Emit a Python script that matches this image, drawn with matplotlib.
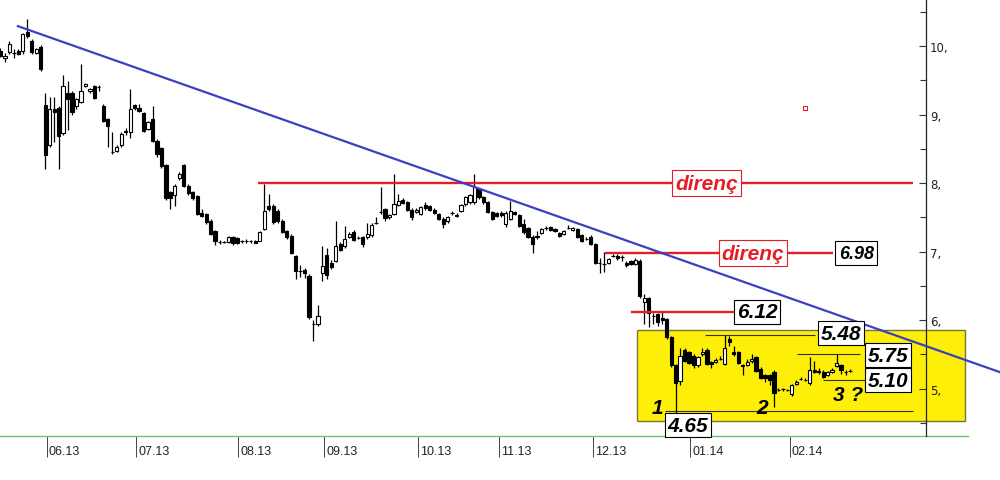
import numpy as np
import matplotlib.pyplot as plt
import matplotlib.transforms as mtransforms
from matplotlib.patches import Rectangle

# daily candles, left to right
opens = [9.93, 9.82, 9.91, 9.90, 9.93, 9.93, 10.21, 10.08, 9.90, 9.99,
         9.14, 8.55, 9.08, 9.09, 8.73, 9.31, 9.31, 9.12, 9.19, 9.42,
         9.35, 9.41, 9.40, 9.13, 8.93, 8.46, 8.47, 8.55, 8.76, 8.75,
         9.14, 9.10, 9.02, 8.79, 8.93, 8.62, 8.51, 8.26, 7.87, 7.82,
         8.07, 8.26, 7.96, 7.87, 7.81, 7.56, 7.55, 7.45, 7.30, 7.14,
         7.14, 7.14, 7.21, 7.20, 7.15, 7.15, 7.15, 7.15, 7.16, 7.33,
         7.67, 7.67, 7.59, 7.45, 7.30, 7.23, 6.93, 6.72, 6.73, 6.65,
         5.94, 5.94, 6.69, 6.95, 6.83, 6.87, 7.11, 7.08, 7.22, 7.29,
         7.20, 7.21, 7.21, 7.24, 7.42, 7.58, 7.62, 7.50, 7.55, 7.68,
         7.76, 7.72, 7.61, 7.58, 7.55, 7.68, 7.66, 7.61, 7.55, 7.48,
         7.44, 7.57, 7.52, 7.60, 7.69, 7.72, 7.72, 7.91, 7.79, 7.72,
         7.58, 7.56, 7.57, 7.40, 7.48, 7.58, 7.53, 7.40, 7.34, 7.22,
         7.23, 7.27, 7.35, 7.36, 7.33, 7.27, 7.26, 7.35, 7.32, 7.33,
         7.24, 7.19, 7.22, 7.11, 6.83, 6.82, 6.84, 6.94, 6.94, 6.92,
         6.84, 6.86, 6.82, 6.87, 6.26, 6.32, 6.06, 6.09, 6.03, 6.01,
         5.75, 5.34, 5.11, 5.56, 5.53, 5.48, 5.34, 5.50, 5.56, 5.39,
         5.39, 5.44, 5.36, 5.72, 5.54, 5.53, 5.34, 5.35, 5.40, 5.46,
         5.29, 5.20, 5.20, 5.25, 4.98, 4.99, 4.98, 4.92, 5.07, 5.14,
         5.13, 5.09, 5.28, 5.26, 5.24, 5.20, 5.25, 5.33, 5.34, 5.25,
         5.26]
highs = [9.97, 9.90, 10.08, 9.96, 9.95, 10.19, 10.39, 10.10, 9.97, 10.01,
         9.31, 9.25, 9.25, 9.12, 9.58, 9.49, 9.35, 9.24, 9.74, 9.46,
         9.39, 9.43, 9.43, 9.15, 8.95, 8.74, 8.55, 8.74, 8.80, 9.37,
         9.16, 9.16, 9.04, 8.91, 9.12, 8.64, 8.53, 8.28, 7.89, 7.98,
         8.16, 8.28, 7.98, 7.89, 7.83, 7.62, 7.57, 7.47, 7.32, 7.17,
         7.16, 7.23, 7.23, 7.22, 7.17, 7.18, 7.17, 7.17, 7.30, 7.99,
         7.84, 7.70, 7.62, 7.47, 7.32, 7.25, 6.95, 6.80, 6.76, 6.67,
         6.00, 6.22, 7.08, 7.05, 6.88, 7.45, 7.14, 7.38, 7.28, 7.31,
         7.23, 7.23, 7.42, 7.42, 7.50, 7.94, 7.64, 7.55, 8.13, 7.84,
         7.78, 7.74, 7.63, 7.63, 7.67, 7.73, 7.68, 7.63, 7.57, 7.50,
         7.52, 7.60, 7.56, 7.70, 7.81, 7.84, 8.13, 7.93, 7.81, 7.74,
         7.60, 7.58, 7.59, 7.59, 7.74, 7.60, 7.55, 7.48, 7.36, 7.24,
         7.30, 7.35, 7.38, 7.38, 7.35, 7.29, 7.32, 7.39, 7.36, 7.35,
         7.26, 7.22, 7.24, 7.13, 6.90, 6.99, 6.91, 6.97, 6.96, 6.95,
         6.86, 6.88, 6.90, 6.89, 6.38, 6.34, 6.10, 6.11, 6.14, 6.03,
         5.77, 5.36, 5.59, 5.60, 5.55, 5.50, 5.48, 5.59, 5.60, 5.41,
         5.45, 5.47, 5.78, 5.77, 5.62, 5.55, 5.36, 5.44, 5.51, 5.48,
         5.31, 5.22, 5.22, 5.27, 5.01, 5.01, 5.00, 5.07, 5.13, 5.17,
         5.16, 5.46, 5.40, 5.30, 5.27, 5.26, 5.30, 5.50, 5.36, 5.28,
         5.29]
lows = [9.84, 9.77, 9.89, 9.82, 9.87, 9.88, 10.12, 9.89, 9.88, 9.64,
        8.20, 8.52, 8.60, 8.21, 8.70, 8.77, 9.00, 9.08, 9.17, 9.40,
        9.32, 9.22, 9.35, 8.89, 8.53, 8.42, 8.45, 8.53, 8.70, 8.66,
        9.06, 9.03, 8.74, 8.77, 8.60, 8.38, 8.22, 7.76, 7.62, 7.66,
        8.05, 7.94, 7.83, 7.76, 7.53, 7.50, 7.41, 7.24, 7.10, 7.11,
        7.12, 7.12, 7.10, 7.11, 7.13, 7.13, 7.13, 7.12, 7.15, 7.31,
        7.60, 7.41, 7.42, 7.27, 7.19, 6.96, 6.60, 6.63, 6.62, 6.02,
        5.70, 5.92, 6.57, 6.60, 6.74, 6.85, 7.01, 7.06, 7.20, 7.15,
        7.18, 7.07, 7.19, 7.22, 7.40, 7.55, 7.45, 7.47, 7.53, 7.66,
        7.69, 7.59, 7.46, 7.56, 7.53, 7.61, 7.59, 7.55, 7.46, 7.35,
        7.42, 7.54, 7.50, 7.58, 7.67, 7.70, 7.70, 7.77, 7.70, 7.56,
        7.46, 7.50, 7.51, 7.36, 7.46, 7.53, 7.36, 7.26, 7.20, 6.98,
        7.19, 7.25, 7.32, 7.30, 7.28, 7.21, 7.24, 7.33, 7.30, 7.20,
        7.14, 7.17, 7.09, 6.82, 6.69, 6.70, 6.82, 6.92, 6.88, 6.87,
        6.78, 6.80, 6.80, 6.33, 5.94, 5.90, 5.95, 5.92, 5.95, 5.73,
        5.32, 4.65, 5.05, 5.39, 5.36, 5.30, 5.32, 5.48, 5.34, 5.30,
        5.37, 5.42, 5.34, 5.62, 5.48, 5.36, 5.20, 5.33, 5.38, 5.24,
        5.14, 5.10, 5.05, 4.73, 4.96, 4.97, 4.96, 4.90, 5.05, 5.12,
        5.11, 5.06, 5.23, 5.22, 5.15, 5.18, 5.23, 5.31, 5.22, 5.20,
        5.24]
closes = [9.86, 9.85, 10.03, 9.90, 9.89, 10.17, 10.14, 9.91, 9.95, 9.66,
          8.41, 9.08, 9.04, 8.69, 9.41, 9.22, 9.04, 9.22, 9.35, 9.44,
          9.37, 9.24, 9.40, 8.91, 8.84, 8.46, 8.53, 8.72, 8.74, 9.08,
          9.09, 9.05, 8.76, 8.89, 8.62, 8.42, 8.25, 7.78, 7.78, 7.96,
          8.13, 7.96, 7.85, 7.78, 7.55, 7.52, 7.43, 7.26, 7.16, 7.14,
          7.14, 7.21, 7.12, 7.13, 7.15, 7.15, 7.15, 7.13, 7.28, 7.60,
          7.62, 7.43, 7.45, 7.29, 7.21, 6.98, 6.72, 6.72, 6.69, 6.04,
          5.94, 6.06, 6.79, 6.66, 6.78, 7.08, 7.03, 7.18, 7.26, 7.17,
          7.20, 7.11, 7.26, 7.39, 7.42, 7.58, 7.49, 7.53, 7.69, 7.74,
          7.71, 7.61, 7.50, 7.61, 7.65, 7.63, 7.61, 7.57, 7.48, 7.40,
          7.50, 7.57, 7.54, 7.68, 7.79, 7.82, 7.94, 7.79, 7.72, 7.58,
          7.48, 7.52, 7.53, 7.57, 7.60, 7.55, 7.38, 7.28, 7.22, 7.11,
          7.21, 7.33, 7.35, 7.32, 7.30, 7.23, 7.30, 7.35, 7.34, 7.22,
          7.16, 7.19, 7.11, 6.84, 6.83, 6.82, 6.89, 6.94, 6.90, 6.92,
          6.80, 6.82, 6.88, 6.35, 6.33, 6.11, 6.06, 5.97, 6.00, 5.75,
          5.34, 5.09, 5.48, 5.41, 5.38, 5.34, 5.46, 5.53, 5.36, 5.36,
          5.42, 5.44, 5.59, 5.68, 5.50, 5.38, 5.33, 5.39, 5.44, 5.26,
          5.16, 5.15, 5.13, 4.94, 4.98, 4.99, 4.98, 5.05, 5.10, 5.14,
          5.13, 5.28, 5.25, 5.24, 5.17, 5.24, 5.28, 5.37, 5.28, 5.25,
          5.26]

month_pos = [10.4, 30.4, 53.2, 72.4, 93.4, 111.6, 132.6, 154.3, 176.5]
month_labels = ['06.13', '07.13', '08.13', '09.13', '10.13', '11.13', '12.13', '01.14', '02.14']

# trend line (two anchor points), resistance / support levels
trend_x = [3.9, 223.6]
trend_y = [10.29, 5.24]
red_levels = [8.0, 6.98, 6.12]
red_start = [57.6, 135.2, 141.1]
red_end = [204.1, 186.2, 164.3]
thin_levels = [5.78, 5.50, 5.12, 4.68]
thin_start = [157.6, 178.2, 184.0, 148.7]
thin_end = [182.2, 192.3, 193.4, 204.1]
zone_x = [142.3, 215.8]
zone_y = [4.53, 5.86]

# (text, x, y)
direnc_labels = [('direnç', 158.0, 8.0), ('direnç', 168.3, 6.98)]
value_labels = [('6.98', 191.4, 6.98), ('6.12', 169.2, 6.12), ('5.48', 188.0, 5.81),
                ('5.75', 198.5, 5.49), ('5.10', 198.5, 5.12), ('4.65', 153.8, 4.47)]
wave_labels = [('1', 146.9, 4.72), ('2', 170.4, 4.72), ('3 ?', 189.6, 4.91)]
dot_x, dot_y = [180.0], [9.09]

o = np.array(opens); h = np.array(highs); l = np.array(lows); c = np.array(closes)
idx = np.arange(len(o))

fig = plt.figure(figsize=(10, 4.81), dpi=100)
ax = fig.add_axes([0, 44 / 481, 0.926, 437 / 481])
ax.set_xlim(-0.11, 207.0)
ax.set_ylim(4.31, 10.686)

ax.add_patch(Rectangle((zone_x[0], zone_y[0]), zone_x[1] - zone_x[0], zone_y[1] - zone_y[0],
                       facecolor='#fdef08', edgecolor='#7a7440', lw=1, clip_on=False, zorder=1))

# candles
ax.vlines(idx, l, h, color='black', lw=0.9, zorder=3)
up = c >= o
ax.bar(idx, np.abs(c - o), bottom=np.minimum(o, c), width=0.72,
       color=np.where(up, 'white', 'black'), edgecolor='black', linewidth=0.8, zorder=4)

ax.hlines(red_levels, red_start, red_end, color='#e41e26', lw=1.7, zorder=5)
ax.hlines(thin_levels, thin_start, thin_end, color='#333333', lw=0.8, zorder=2)
ax.plot(trend_x, trend_y, color='#3a40c4', lw=1.6, clip_on=False, zorder=6)
ax.plot(dot_x, dot_y, 's', ms=2.5, mfc='none', mec='#e41e26', mew=0.8)

font = dict(family='Liberation Sans', fontweight='bold', style='italic')
for s, x, y in direnc_labels:
    ax.text(x, y, s, ha='center', va='center', fontsize=15, color='#e41e26', zorder=7,
            bbox=dict(boxstyle='square,pad=0.15', fc='white', ec='#e41e26', lw=0.8), **font)
for s, x, y in value_labels:
    fs = 13 if s == '6.98' else 15
    pad = 0.2 if s == '6.98' else 0.12
    ax.text(x, y, s, ha='center', va='center', fontsize=fs, color='black', zorder=7,
            bbox=dict(boxstyle=f'square,pad={pad}', fc='white', ec='black', lw=0.8), **font)
for s, x, y in wave_labels:
    ax.text(x, y, s, ha='center', va='center', fontsize=15, color='black', zorder=7, **font)

# axes styling
for side in ['left', 'top', 'bottom']:
    ax.spines[side].set_visible(False)
ax.spines['right'].set_color('#222222')
ax.spines['right'].set_linewidth(0.9)
ax.yaxis.tick_right()
ax.set_yticks([5, 6, 7, 8, 9, 10])
ax.set_yticklabels([f'{v},' for v in [5, 6, 7, 8, 9, 10]])
ax.set_yticks(np.arange(4.5, 10.6, 1.0), minor=True)
ax.tick_params(axis='y', which='major', direction='in', length=5, width=0.8,
               color='#333333', labelsize=8.5, labelcolor='#222222', pad=3)
ax.tick_params(axis='y', which='minor', direction='in', length=4, width=0.8, color='#333333')

ax.set_xticks(month_pos)
ax.set_xticklabels([])
ax.tick_params(axis='x', direction='out', length=15, width=0.7, color='#444444')
ax.plot([0, 968 / 926], [0, 0], transform=ax.transAxes, color='#6cc46c', lw=1, clip_on=False)
lab_tr = mtransforms.offset_copy(ax.get_xaxis_transform(), fig=fig, x=2, y=-15, units='dots')
for pos, lab in zip(month_pos, month_labels):
    ax.text(pos, 0, lab, transform=lab_tr, ha='left', va='center', fontsize=9,
            color='#222222', family='Liberation Sans')

fig.savefig('out.png', dpi=100)
